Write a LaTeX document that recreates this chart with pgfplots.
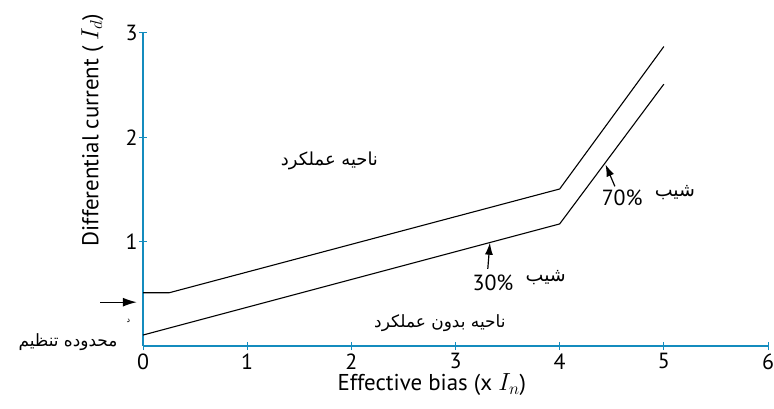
\documentclass[border=0pt]{standalone}
\usepackage{fontspec}
\setmainfont{PT Sans}
\newfontfamily\arabicfont[Script=Arabic]{DejaVu Sans}
\TeXXeTstate=1
\usepackage{pgfplots}
\pgfplotsset{compat=1.18}
\usetikzlibrary{arrows.meta}
\definecolor{axblue}{RGB}{20,140,190}
\begin{document}
\begin{tikzpicture}[x=1bp,y=1bp]
\useasboundingbox (0,0) rectangle (774,408);
\begin{axis}[
  at={(143bp,62bp)}, anchor=south west,
  scale only axis, width=625bp, height=313bp,
  xmin=0, xmax=6, ymin=0, ymax=3,
  axis lines=left,
  axis line style={-, axblue, line width=1.2pt},
  tick style={axblue, line width=1pt},
  tick align=center, major tick length=8bp,
  xtick={0,1,2,3,4,5,6}, ytick={1,2,3},
  /pgf/number format/assume math mode=true,
  ticklabel style={font=\fontsize{22}{26}\selectfont, text=black},
  xticklabel style={yshift=0bp},
  yticklabel style={xshift=2bp},
  xlabel={Effective bias (x $I_n$)},
  ylabel={Differential current ( $I_d$)},
  label style={font=\fontsize{23}{27}\selectfont},
  xlabel style={at={(rel axis cs:0.462,0)}, anchor=north, yshift=-24bp},
  ylabel style={at={(rel axis cs:0,0.69)}, anchor=south, yshift=36bp},
  clip=false,
]
\addplot[black, line width=1.1pt] coordinates {(0,0.51) (0.25,0.51) (4,1.505) (5,2.87)};
\addplot[black, line width=1.1pt] coordinates {(0,0.105) (4,1.17) (5,2.51)};

\draw[-{Latex[length=14bp,width=9bp]}, line width=1.2pt] (axis cs:-0.41,0.42) -- (axis cs:-0.06,0.42);
\draw[-{Latex[length=12bp,width=8bp]}, line width=1.2pt] (axis cs:3.31,0.74) -- (axis cs:3.33,0.99);
\draw[-{Latex[length=12bp,width=8bp]}, line width=1.2pt] (axis cs:4.53,1.53) -- (axis cs:4.44,1.74);

\node[font=\arabicfont\fontsize{18}{20}\selectfont] at (axis cs:1.79,1.77) {\beginR ناحیه عملکرد\endR};
\node[font=\arabicfont\fontsize{17}{20}\selectfont] at (axis cs:2.85,0.22) {\beginR ناحیه بدون عملکرد\endR};
\node[font=\arabicfont\fontsize{17}{20}\selectfont] at (axis cs:-0.72,0.04) {\beginR محدوده تنظیم\endR};
\node[font=\arabicfont\fontsize{8}{10}\selectfont] at (axis cs:-0.14,0.24) {\beginR د\endR};

\node[font=\fontsize{22}{26}\selectfont] at (axis cs:3.36,0.61) {30\%};
\node[font=\arabicfont\fontsize{19}{22}\selectfont, anchor=west] at (axis cs:3.64,0.66) {\beginR شیب\endR};
\node[font=\fontsize{22}{26}\selectfont] at (axis cs:4.6,1.42) {70\%};
\node[font=\arabicfont\fontsize{19}{22}\selectfont, anchor=west] at (axis cs:4.88,1.47) {\beginR شیب\endR};
\end{axis}
\end{tikzpicture}
\end{document}
